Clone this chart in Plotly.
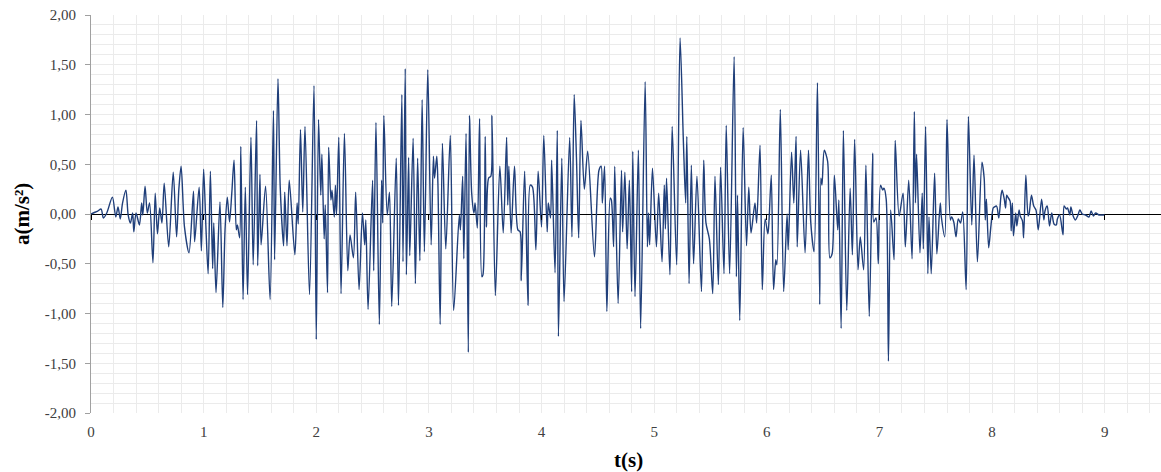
import plotly.graph_objects as go

# time (s) and acceleration (m/s^2)
t_s = [
    0.00, 0.02, 0.04, 0.06, 0.09, 0.11, 0.14, 0.19, 0.22, 0.24, 0.26, 0.28, 0.31, 0.33, 0.35, 0.37, 0.38,
    0.40, 0.43, 0.45, 0.46, 0.48, 0.50, 0.52, 0.55, 0.57, 0.59, 0.61, 0.63, 0.65, 0.69, 0.73, 0.76, 0.78,
    0.80, 0.83, 0.87, 0.91, 0.92, 0.96, 0.98, 1.00,
    1.02, 1.04, 1.06, 1.08, 1.09, 1.11, 1.145, 1.17, 1.19, 1.21, 1.23, 1.25, 1.27, 1.29, 1.30, 1.32, 1.33,
    1.35, 1.37, 1.39, 1.42, 1.44, 1.47, 1.48, 1.50, 1.51, 1.55, 1.59, 1.62, 1.63, 1.66, 1.68, 1.71, 1.72,
    1.74, 1.76, 1.81, 1.83, 1.84, 1.86, 1.88, 1.90, 1.94, 1.98, 2.00,
    2.02, 2.04, 2.05, 2.07, 2.08, 2.10, 2.11, 2.13, 2.14, 2.16, 2.17, 2.18, 2.20, 2.22, 2.25, 2.28, 2.30,
    2.33, 2.35, 2.38, 2.41, 2.43, 2.44, 2.46, 2.50, 2.51, 2.53, 2.56, 2.58, 2.59, 2.60, 2.63, 2.65, 2.67,
    2.71, 2.73, 2.76, 2.77, 2.79, 2.80, 2.82, 2.83, 2.86, 2.88, 2.90, 2.92, 2.94, 2.96, 2.99,
    3.02, 3.04, 3.05, 3.07, 3.08, 3.10, 3.12, 3.15, 3.19, 3.22, 3.27, 3.28, 3.30, 3.31, 3.33, 3.35, 3.36,
    3.38, 3.40, 3.41, 3.43, 3.45, 3.47, 3.48, 3.50, 3.51, 3.53, 3.55, 3.56, 3.59, 3.63, 3.66, 3.69, 3.70,
    3.71, 3.73, 3.76, 3.79, 3.81, 3.82, 3.85, 3.88, 3.90, 3.92, 3.95, 3.97, 4.00, 4.02,
    4.05, 4.06, 4.08, 4.09, 4.12, 4.14, 4.15, 4.18, 4.20, 4.25, 4.27, 4.29, 4.31, 4.33, 4.35, 4.38, 4.41,
    4.47, 4.51, 4.53, 4.54, 4.56, 4.58, 4.61, 4.62, 4.64, 4.65, 4.68, 4.71, 4.72, 4.74, 4.76, 4.78, 4.80,
    4.81, 4.83, 4.86, 4.88, 4.92, 4.94, 4.95, 4.96, 4.985, 5.02,
    5.04, 5.07, 5.09, 5.10, 5.11, 5.14, 5.16, 5.20, 5.23, 5.26, 5.28, 5.29, 5.31, 5.33, 5.35, 5.38, 5.42,
    5.44, 5.46, 5.49, 5.52, 5.54, 5.57, 5.59, 5.62, 5.64, 5.67, 5.71, 5.73, 5.74, 5.76, 5.79, 5.82, 5.84,
    5.86, 5.895, 5.91, 5.94, 5.96, 5.985, 6.01,
    6.02, 6.04, 6.06, 6.08, 6.09, 6.12, 6.15, 6.18, 6.19, 6.22, 6.24, 6.26, 6.27, 6.30, 6.34, 6.37, 6.39,
    6.42, 6.45, 6.47, 6.48, 6.49, 6.51, 6.54, 6.56, 6.58, 6.60, 6.63, 6.64, 6.66, 6.68, 6.71, 6.74, 6.76,
    6.78, 6.81, 6.83, 6.86, 6.88, 6.91, 6.94, 6.95, 6.97, 6.99, 7.01,
    7.03, 7.04, 7.06, 7.08, 7.10, 7.13, 7.14, 7.175, 7.21, 7.23, 7.26, 7.29, 7.31, 7.32, 7.33, 7.36, 7.38,
    7.39, 7.41, 7.43, 7.44, 7.46, 7.49, 7.51, 7.54, 7.55, 7.58, 7.60, 7.63, 7.64, 7.66, 7.68, 7.70, 7.72,
    7.74, 7.77, 7.79, 7.82, 7.84, 7.87, 7.91, 7.93, 7.94, 7.95, 7.97,
    7.99, 8.01, 8.02, 8.04, 8.06, 8.08, 8.09, 8.11, 8.12, 8.13, 8.14, 8.16, 8.17, 8.18, 8.19, 8.21, 8.22,
    8.24, 8.25, 8.27, 8.28, 8.30, 8.32, 8.33, 8.35, 8.37, 8.39, 8.41, 8.44, 8.46, 8.47, 8.49, 8.51, 8.53,
    8.55, 8.57, 8.58, 8.60, 8.63, 8.64, 8.66, 8.67, 8.69, 8.70, 8.72, 8.74, 8.76, 8.78, 8.80, 8.83, 8.86,
    8.88, 8.90, 8.92, 8.95, 8.97, 9.00,
]
acc = [
    0.00, 0.01, 0.02, 0.03, 0.05, -0.04, 0.01, 0.17, -0.03, 0.07, -0.05, 0.11, 0.24, -0.01, -0.09, 0.01, -0.18,
    0.01, -0.11, 0.11, -0.01, 0.28, 0.01, 0.11, -0.49, 0.21, -0.20, 0.06, -0.09, 0.31, -0.33, 0.42, -0.23, 0.25,
    0.48, -0.13, -0.39, 0.23, -0.28, 0.27, -0.37, 0.45,
    -0.12, -0.60, 0.43, -0.55, -0.09, -0.79, 0.12, -0.94, -0.16, 0.17, -0.08, 0.21, 0.54, -0.16, -0.11, -0.24, 0.68,
    -0.86, 0.27, -0.81, 0.77, -0.51, 0.94, -0.52, 0.40, -0.31, 0.28, -0.86, 1.04, -0.46, 1.36, 0.27, -0.32, 0.22,
    -0.32, 0.34, -0.41, 0.11, -0.10, 0.85, 0.02, 0.88, -0.81, 1.29, -1.26,
    0.95, 0.19, 0.60, -0.25, 0.09, -0.79, 0.67, 0.14, 0.24, -0.03, 0.29, -0.01, 0.77, -0.80, 0.81, -0.57, -0.21,
    -0.44, 0.22, -0.76, 0.01, -0.31, -0.06, -0.96, 0.34, -0.57, 0.92, -1.11, 0.34, -0.09, 0.99, -0.01, 0.22, -0.93,
    0.56, -0.92, 1.20, -0.48, 1.46, -0.61, 0.57, -0.42, 0.76, -0.70, 0.56, -0.47, 1.15, -0.38, 1.45,
    -0.31, 0.58, 0.36, 0.58, 0.31, -1.11, 0.71, -0.35, 0.79, -0.97, -0.01, -0.16, 0.38, -0.45, 0.81, -1.39, 0.99,
    0.21, 0.01, 0.11, -0.14, 0.96, -0.63, -0.61, 0.78, -0.13, 0.36, 0.38, 0.99, -0.82, 0.48, -0.19, 0.77, 0.09,
    0.48, -0.19, 0.48, -0.16, -0.18, -0.67, 0.43, -0.92, 0.29, 0.27, -0.36, 0.43, -0.13, 0.79,
    -0.18, 0.11, -0.04, 0.54, -0.59, 0.84, -1.23, 0.56, -0.88, 0.77, -0.23, 1.20, 0.57, -0.24, 0.94, 0.25, 0.63,
    -0.43, 0.44, 0.48, 0.11, 0.48, -0.98, 0.16, 0.14, -0.33, 0.48, -0.90, 0.44, -0.18, 0.42, -0.35, 0.34, -0.78,
    0.63, -0.83, 0.64, -1.15, 1.33, -0.33, 0.01, -0.31, 0.46, -0.33,
    0.21, -0.48, 0.29, -0.15, 0.36, -0.61, 0.88, -0.51, 1.77, 0.71, 0.11, 0.78, -0.70, 0.49, -0.50, 0.38, -0.78,
    0.54, -0.09, -0.25, -0.80, 0.38, -0.71, 0.47, -0.60, 0.89, -0.60, 1.58, -0.63, 0.19, -1.07, 0.87, -0.32, 0.27,
    -0.19, 0.11, -0.09, 0.69, -0.76, -0.05, -0.20,
    -0.06, 0.39, -0.76, -0.46, -0.51, 1.05, -0.78, 0.00, -0.36, 0.62, 0.11, 0.78, -0.33, 0.64, -0.39, 0.64, -0.08,
    -0.38, 1.32, -0.91, 0.36, 0.29, 0.64, 0.53, -0.44, -0.40, 0.39, -0.16, 0.14, -1.15, 0.84, -0.97, 0.26, -0.41,
    0.75, -0.56, -0.23, -0.56, 0.49, -1.03, 0.61, -0.08, -0.04, -0.50, 0.29,
    0.24, 0.26, 0.15, -1.48, 0.04, -0.46, 0.74, -0.02, 0.21, -0.33, 0.34, -0.45, 1.03, 0.11, 0.60, -0.39, 0.21,
    -0.35, 0.88, -0.60, -0.03, -0.60, 0.41, -0.40, 0.11, -0.03, -0.23, 0.95, -0.06, -0.03, -0.08, -0.23, -0.05, -0.09,
    0.02, -0.76, 0.98, -0.11, 0.59, -0.48, 0.52, 0.36, -0.06, 0.15, -0.34,
    -0.12, 0.06, 0.07, 0.08, -0.04, 0.19, 0.24, 0.14, 0.06, 0.19, 0.17, 0.13, -0.17, 0.11, -0.22, 0.01, -0.12,
    0.04, -0.02, -0.07, -0.24, 0.39, -0.02, 0.01, 0.19, 0.08, 0.04, -0.16, 0.15, -0.06, 0.03, 0.08, -0.12, 0.01,
    -0.10, -0.11, -0.05, -0.01, -0.21, 0.08, 0.05, 0.06, -0.01, 0.07, -0.02, -0.06, -0.02, 0.04, 0.00, -0.01, -0.03,
    0.03, -0.02, 0.01, -0.01, -0.01, -0.01,
]

y_tick_vals = [-2.0, -1.5, -1.0, -0.5, 0.0, 0.5, 1.0, 1.5, 2.0]
y_tick_text = ["-2,00", "-1,50", "-1,00", "-0,50", "0,00", "0,50", "1,00", "1,50", "2,00"]
x_tick_vals = [0, 1, 2, 3, 4, 5, 6, 7, 8, 9]
x_tick_text = ["0", "1", "2", "3", "4", "5", "6", "7", "8", "9"]

serif = "Liberation Serif, Times New Roman, serif"
grid = "#ebebeb"

fig = go.Figure()
fig.add_trace(go.Scatter(
    x=t_s, y=acc, mode="lines",
    line=dict(color="#203f7a", width=1.4, shape="spline", smoothing=0.8),
    hoverinfo="skip", showlegend=False,
))
# trace on the overlay axis that carries the tick marks along the zero line
fig.add_trace(go.Scatter(x=[0, 9.5], y=[0, 0], xaxis="x2", yaxis="y",
                         mode="lines", line=dict(color="rgba(0,0,0,0)", width=0),
                         showlegend=False, hoverinfo="skip"))

fig.update_layout(
    width=1161, height=472,
    margin=dict(l=91, r=0, t=15, b=59),
    paper_bgcolor="white", plot_bgcolor="white",
    font=dict(family=serif, size=15, color="#404040"),
    xaxis=dict(
        range=[0, 9.5], tickvals=x_tick_vals, ticktext=x_tick_text,
        showgrid=True, gridcolor=grid, gridwidth=1,
        minor=dict(dtick=0.2, tick0=0, showgrid=True, gridcolor=grid, gridwidth=1,
                   ticks="", ticklen=0),
        showline=False, zeroline=False, ticks="", ticklen=0, ticklabelstandoff=8,
        tickfont=dict(family=serif, size=15, color="#404040"),
    ),
    xaxis2=dict(
        range=[0, 9.5], overlaying="x", anchor="free", position=0.5, side="bottom",
        tickvals=x_tick_vals, showticklabels=False, ticks="outside", ticklen=5,
        tickcolor="#000000", tickwidth=1, showgrid=False, showline=False, zeroline=False,
        minor=dict(showgrid=False, ticks=""),
    ),
    yaxis=dict(
        range=[-2, 2], tickvals=y_tick_vals, ticktext=y_tick_text,
        showgrid=True, gridcolor=grid, gridwidth=1,
        minor=dict(dtick=0.1, tick0=0, showgrid=True, gridcolor=grid, gridwidth=1,
                   ticks="", ticklen=0),
        showline=True, linecolor="#a0a0a0", linewidth=1,
        ticks="outside", ticklen=5, tickcolor="#a0a0a0",
        zeroline=True, zerolinecolor="#000000", zerolinewidth=1,
        ticklabelstandoff=6,
        tickfont=dict(family=serif, size=15, color="#404040"),
    ),
    annotations=[
        dict(text="<b>a(m/s²)</b>", xref="paper", yref="paper", x=-0.0645, y=0.5,
             xanchor="center", yanchor="middle", textangle=-90, showarrow=False,
             font=dict(family=serif, size=21, color="#000000")),
        dict(text="<b>t(s)</b>", xref="paper", yref="paper", x=0.502, y=-0.118,
             xanchor="center", yanchor="middle", showarrow=False,
             font=dict(family=serif, size=21, color="#000000")),
    ],
)

fig.write_html("out.html")
